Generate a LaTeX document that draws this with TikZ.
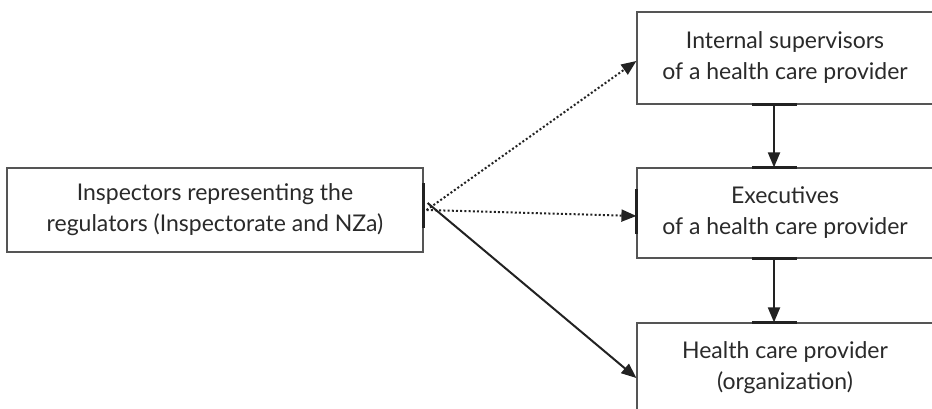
\documentclass[tikz,border=0pt]{standalone}
\usepackage{fontspec}
\setmainfont{Lato}
\usetikzlibrary{arrows.meta}
\definecolor{boxgray}{HTML}{555555}
\definecolor{ink}{HTML}{222222}
\definecolor{txt}{HTML}{2a2a2a}
\tikzset{
  box/.style={draw=boxgray, line width=1.2pt, fill=white, align=center, text=txt,
    font=\fontsize{23}{31}\selectfont, inner sep=0pt},
  conn/.style={draw=ink, line width=2pt, -{Triangle[length=15pt,width=12pt]}},
  dotconn/.style={conn, dash pattern=on 2pt off 2.2pt},
  joint/.style={draw=ink, line width=3pt},
}
\begin{document}
\begin{tikzpicture}[x=1pt,y=-1pt]
\useasboundingbox (0,0) rectangle (932,409);
\node[box, minimum width=416pt, minimum height=84pt] (L) at (215,210)
  {Inspectors representing the\\regulators (Inspectorate and NZa)};
\node[box, minimum width=296pt, minimum height=92pt] (T) at (785,58)
  {Internal supervisors\\of a health care provider};
\node[box, minimum width=296pt, minimum height=90pt] (M) at (785,213)
  {Executives\\of a health care provider};
\node[box, minimum width=296pt, minimum height=90pt] (B) at (785,368)
  {Health care provider\\(organization)};
% joints on borders
\draw[joint] ([yshift=-18pt]L.east) -- ([yshift=27pt]L.east);
\draw[joint] ([yshift=-21pt]M.west) -- ([yshift=24pt]M.west);
\draw[joint] ([xshift=-33pt]T.south) -- ([xshift=12pt]T.south);
\draw[joint] ([xshift=-33pt]M.north) -- ([xshift=12pt]M.north);
\draw[joint] ([xshift=-33pt]M.south) -- ([xshift=12pt]M.south);
\draw[joint] ([xshift=-33pt]B.north) -- ([xshift=12pt]B.north);
% connectors
\draw[dotconn] ([xshift=3pt]L.east) -- ([yshift=-3pt]T.west);
\draw[dotconn] ([xshift=3pt]L.east) -- ([yshift=-3pt]M.west);
\draw[conn] ([xshift=4pt,yshift=7pt]L.east) -- ([yshift=-10pt]B.west);
\draw[conn] ([xshift=-11pt]T.south) -- ([xshift=-11pt]M.north);
\draw[conn] ([xshift=-11pt]M.south) -- ([xshift=-11pt]B.north);
\end{tikzpicture}
\end{document}
